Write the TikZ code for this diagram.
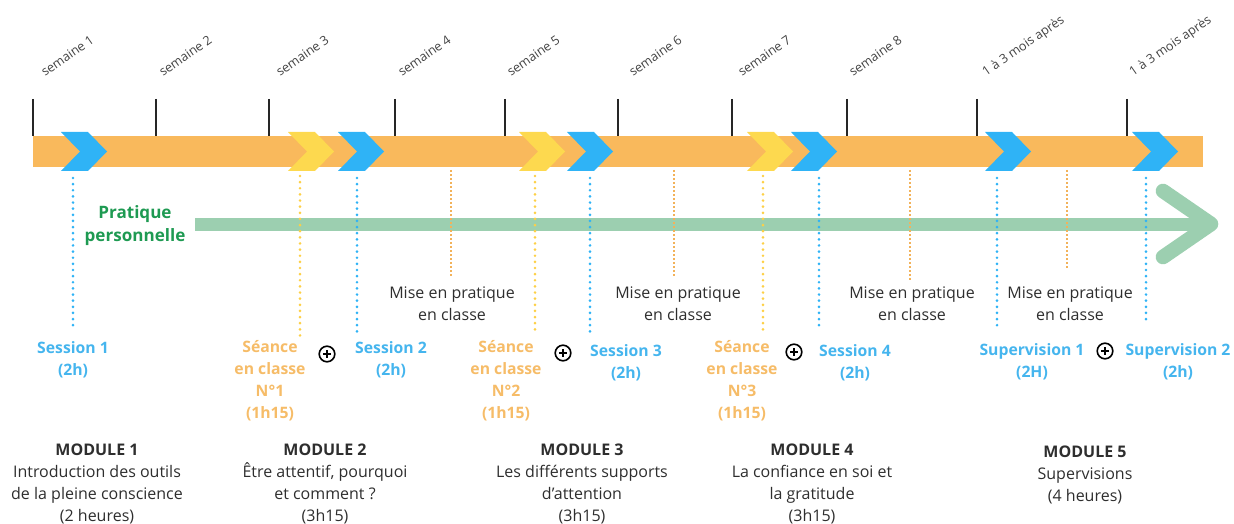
\documentclass[tikz,border=0pt]{standalone}
\usepackage{fontspec}
\setmainfont{Open Sans}
\usetikzlibrary{positioning}
\definecolor{barorange}{HTML}{F9B95C}
\definecolor{chblue}{HTML}{2FB3F6}
\definecolor{chyellow}{HTML}{FDD94F}
\definecolor{txtblue}{HTML}{45B5EE}
\definecolor{txtorange}{HTML}{F6BC68}
\definecolor{dotorange}{HTML}{F2B25A}
\definecolor{arrowgreen}{HTML}{9CCFB0}
\definecolor{txtgreen}{HTML}{1E9A52}
\definecolor{txtgray}{HTML}{2E2E2E}
\tikzset{
  weektick/.style={line width=2pt,black!85},
  weeklab/.style={font=\fontsize{9.5}{11}\selectfont,text=txtgray!90,rotate=35,anchor=base west,inner sep=0pt},
  bluedots/.style={chblue,line width=2.2pt,line cap=round,dash pattern=on 0pt off 4.6pt},
  yellowdots/.style={chyellow!90!orange,line width=2.2pt,line cap=round,dash pattern=on 0pt off 4.6pt},
  thindots/.style={dotorange,line width=1pt,dash pattern=on 1.5pt off 1.5pt},
  lblblue/.style={font=\bfseries\fontsize{11.8}{16.5}\selectfont,text=txtblue,align=center,inner sep=0pt},
  lblorange/.style={font=\bfseries\fontsize{11.8}{16.5}\selectfont,text=txtorange,align=center,inner sep=0pt},
  practice/.style={font=\fontsize{12}{16.5}\selectfont,text=txtgray,align=center,inner sep=0pt},
  module/.style={font=\fontsize{12}{16.5}\selectfont,text=txtgray,align=center,inner sep=0pt},
  plusicon/.pic={
    \draw[line width=1.2pt,black] (0,0) circle (7.8);
    \draw[line width=1.9pt,black] (-4,0) -- (4,0) (0,-4) -- (0,4);
  }
}
\begin{document}
\begin{tikzpicture}[x=0.75pt,y=-0.75pt]
  \useasboundingbox (0,0) rectangle (1234,524);
  % weeks
  \foreach \t/\lx/\lab [count=\i] in {33/45/semaine 1,156/163/semaine 2,269/280/semaine 3,395/402/semaine 4,505/511/semaine 5,618/633/semaine 6,732/742/semaine 7,847/853/semaine 8,977/986/1 à 3 mois après,1127/1133/1 à 3 mois après}{
    \draw[weektick] (\t,99) -- (\t,136);
    \node[weeklab] (w\i) at (\lx,77) {\lab};
  }
  \fill[barorange] (33,136) rectangle (1203,167);
  \foreach \x/\c in {61/chblue,288/chyellow,338/chblue,519/chyellow,567/chblue,747/chyellow,791/chblue,985/chblue,1132/chblue}
    \fill[\c] (\x,132) -- ++(27,0) -- ++(19,19.5) -- ++(-19,19.5) -- ++(-27,0) -- ++(19,-19.5) -- cycle;
  % practice arrow
  \node[font=\bfseries\fontsize{12.8}{17.3}\selectfont,text=txtgreen,align=center,inner sep=0pt] (perso) at (135,226) {Pratique\\personnelle};
  \coordinate (gstart) at (195,224);
  \coordinate (gend) at (1211,224);
  \draw[arrowgreen,line width=9.75pt] (gstart) -- (gend);
  \draw[arrowgreen,line width=11pt,line cap=round,line join=round] (1163,191) -- (gend) -- (1163,257);
  % dotted guides
  \foreach \x/\yb in {73/328,357/332,590/333,819/331,997/328,1146/323}
    \draw[bluedots] (\x,178) -- (\x,\yb);
  \foreach \x/\yb in {300/336,535/333,763/330}
    \draw[yellowdots] (\x,176) -- (\x,\yb);
  \foreach \x/\yb in {451/278,674/278,910/280,1067/270}
    \draw[thindots] (\x,170) -- (\x,\yb);
  % labels
  \node[lblblue] (sess1) at (73,360) {Session 1\\(2h)};
  \node[lblorange] (seance1) at (270,381) {Séance\\en classe\\N°1\\(1h15)};
  \pic at (327,354) {plusicon};
  \node[lblblue] (sess2) at (391,360) {Session 2\\(2h)};
  \node[practice] (prat1) at (452,304) {Mise en pratique\\en classe};
  \node[lblorange] (seance2) at (506,381) {Séance\\en classe\\N°2\\(1h15)};
  \pic at (563,353) {plusicon};
  \node[lblblue] (sess3) at (626,363) {Session 3\\(2h)};
  \node[practice] (prat2) at (678,304) {Mise en pratique\\en classe};
  \node[lblorange] (seance3) at (742,381) {Séance\\en classe\\N°3\\(1h15)};
  \pic at (794,352) {plusicon};
  \node[lblblue] (sess4) at (855,363) {Session 4\\(2h)};
  \node[practice] (prat3) at (912,304) {Mise en pratique\\en classe};
  \node[practice] (prat4) at (1070,304) {Mise en pratique\\en classe};
  \node[lblblue] (sup1) at (1032,362) {Supervision 1\\(2H)};
  \pic at (1105,351) {plusicon};
  \node[lblblue] (sup2) at (1178,362) {Supervision 2\\(2h)};
  % modules
  \node[module] (mod1) at (97,484) {\textbf{MODULE 1}\\Introduction des outils\\de la pleine conscience\\(2 heures)};
  \node[module] (mod2) at (325,484) {\textbf{MODULE 2}\\Être attentif, pourquoi\\et comment ?\\(3h15)};
  \node[module] (mod3) at (582,484) {\textbf{MODULE 3}\\Les différents supports\\d{\char"27}attention\\(3h15)};
  \node[module] (mod4) at (812,484) {\textbf{MODULE 4}\\La confiance en soi et\\la gratitude\\(3h15)};
  \node[module] (mod5) at (1085,475) {\textbf{MODULE 5}\\Supervisions\\(4 heures)};
\end{tikzpicture}
\end{document}
